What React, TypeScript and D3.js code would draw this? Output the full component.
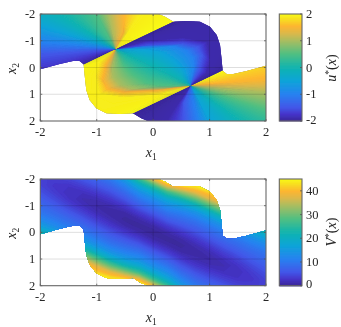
import React from 'react';
import * as d3 from 'd3';

type Pt = [number, number];

const W = 341;
const H = 327;

const axisTicks = [-2, -1, 0, 1, 2];
const uBarTicks = [-2, -1, 0, 1, 2];
const vBarTicks = [0, 10, 20, 30, 40];

// colour bar: position 0..1, colour
const barPos = [0, 0.06, 0.125, 0.25, 0.375, 0.5, 0.625, 0.75, 0.82, 0.885, 0.94, 1];
const barCol = ['#3a2898', '#4433c8', '#4356e8', '#2682f0', '#0ea4d8', '#12b4ae', '#4fbf82', '#a9bd60', '#dcb84a', '#fdb52f', '#f8d824', '#f8fb14'];

// edge of the feasible set, the other half is the same turned through the origin
const edgeHalf: Pt[] = [
  [-2, -2], [0.092, -2], [0.21, -1.9], [0.357, -1.713], [0.594, -1.738], [0.83, -1.713], [1.007, -1.526],
  [1.126, -1.215], [1.185, -0.841], [1.208, -0.405], [1.232, 0.118], [1.303, 0.243], [1.421, 0.243],
  [1.657, 0.131], [2, -0.069],
];

const pivotA: Pt = [-0.665, -0.679];
const pivotB: Pt = [0.665, 0.679];

// u* level lines in the fan left of the first switching line
const fanLevels = [-2, -1.5, -1, -0.5, 0, 0.5, 1, 1.5, 1.9, 2];
const fanCurves: Pt[][] = [
  [pivotA, [-1.25, -0.087], [-2, 0.672], [-3, 1.684]],
  [pivotA, [-1.333, -0.573], [-2, -0.467], [-3, -0.308]],
  [pivotA, [-1.333, -0.816], [-2, -0.953], [-3, -1.158]],
  [pivotA, [-1.333, -1.128], [-2, -1.576], [-3, -2.25]],
  [pivotA, [-1.129, -1.34], [-1.592, -2], [-2.055, -2.66]],
  [pivotA, [-0.833, -1.34], [-1.0015, -2], [-1.17, -2.66]],
  [pivotA, [-0.73, -1.34], [-0.795, -2], [-0.86, -2.66]],
  [pivotA, [-0.53, -1.33], [-0.54, -2], [-0.5, -2.66]],
  [pivotA, [-0.47, -1.265], [-0.292, -1.826], [-0.1, -2.66]],
  [pivotA, [-0.2, -1.15], [0.357, -1.713], [1, -2.364]],
];

// u* level lines in the strip between the two switching lines, 0 and up
const stripLevels = [0, 0.5, 1, 1.5, 1.9, 2];
const stripCurves: Pt[][] = [
  [pivotA, [-0.443, -0.453], [-0.222, -0.226], [0, 0], [0.222, 0.226], [0.443, 0.453], pivotB],
  [pivotA, [-0.529, -0.069], [-0.352, 0.28], [-0.115, 0.592], [0.18, 0.679], [0.417, 0.692], pivotB],
  [pivotA, [-0.736, 0.031], [-0.706, 0.368], [-0.588, 0.654], [-0.352, 0.816], [0.239, 0.779], pivotB],
  [pivotA, [-0.824, -0.093], [-0.883, 0.467], [-0.795, 0.779], [-0.529, 0.903], [0.062, 0.841], pivotB],
  [pivotA, [-0.942, -0.218], [-1.019, 0.28], [-0.96, 0.966], [-0.529, 1.115], [0.121, 1.003], pivotB],
  [pivotA, [-1.25, -0.087], [-2, 0.672], [-3, 1.684], [-3, 4.388], [-0.35, 1.7], pivotB],
];

// V* read on a 0.25 grid, one list per x1 column, x2 from -2 to 2
const vGridX1 = d3.range(-2, 2.01, 0.25);
const vGridX2 = d3.range(-2, 2.01, 0.25);
const vColumns = [
  [3.6, 4.1, 5.2, 6.6, 8.1, 9.7, 12.1, 15.8, 21.5, 30, 50, 50, 50, 50, 50, 50, 50],
  [3.4, 2.8, 3.4, 4.6, 6.3, 8, 10, 12.7, 17.1, 23.7, 32, 50, 50, 50, 50, 50, 50],
  [4.0, 2.6, 2.0, 2.6, 4.0, 5.9, 7.9, 10.1, 13.2, 18.1, 25.6, 33, 50, 50, 50, 50, 50],
  [5.8, 3.7, 2.1, 1.4, 2.1, 3.7, 5.8, 8, 10.5, 14, 19.6, 28, 36.4, 44, 50, 50, 50],
  [7.7, 5.4, 3.3, 1.6, 0.9, 1.6, 3.3, 5.4, 7.7, 10.3, 13.9, 19.6, 28.3, 36.9, 42, 50, 50],
  [10.3, 7.6, 5.2, 3, 1.3, 0.5, 1.3, 3, 5.2, 7.6, 10.3, 14, 20, 29, 38, 44, 50],
  [15.5, 11.3, 8.3, 5.6, 3, 1, 0.2, 1, 3, 5.6, 8.3, 11.3, 15.5, 22.3, 32.5, 42.7, 50],
  [26.1, 18.1, 13.1, 9.6, 6.4, 3.4, 1.1, 0.1, 1.1, 3.4, 6.4, 9.6, 13.1, 18.1, 26.1, 38.1, 50],
  [38, 26, 18, 13, 9.5, 6.3, 3.3, 1, 0, 1, 3.3, 6.3, 9.5, 13, 18, 26, 38],
  [50, 38.1, 26.1, 18.1, 13.1, 9.6, 6.4, 3.4, 1.1, 0.1, 1.1, 3.4, 6.4, 9.6, 13.1, 18.1, 26.1],
  [50, 42.7, 32.5, 22.3, 15.5, 11.3, 8.3, 5.6, 3, 1, 0.2, 1, 3, 5.6, 8.3, 11.3, 15.5],
  [50, 44, 38, 29, 20, 14, 10.3, 7.6, 5.2, 3, 1.3, 0.5, 1.3, 3, 5.2, 7.6, 10.3],
  [50, 50, 42, 36.9, 28.3, 19.6, 13.9, 10.3, 7.7, 5.4, 3.3, 1.6, 0.9, 1.6, 3.3, 5.4, 7.7],
  [50, 50, 50, 44, 36.4, 28, 19.6, 14, 10.5, 8, 5.8, 3.7, 2.1, 1.4, 2.1, 3.7, 5.8],
  [50, 50, 50, 50, 50, 33, 25.6, 18.1, 13.2, 10.1, 7.9, 5.9, 4.0, 2.6, 2.0, 2.6, 4.0],
  [50, 50, 50, 50, 50, 50, 32, 23.7, 17.1, 12.7, 10, 8, 6.3, 4.6, 3.4, 2.8, 3.4],
  [50, 50, 50, 50, 50, 50, 50, 30, 21.5, 15.8, 12.1, 9.7, 8.1, 6.6, 5.2, 4.1, 3.6],
];

const negate = (p: Pt): Pt => [-p[0], -p[1]];
const edge: Pt[] = [...edgeHalf, ...edgeHalf.map(negate)];

const colorRange = (lo: number, hi: number) =>
  d3.scaleLinear<string>()
    .domain(barPos.map((t) => lo + (hi - lo) * t))
    .range(barCol)
    .clamp(true);

const uColor = colorRange(-2, 2);
const vColor = colorRange(0, 45);

const xScale = d3.scaleLinear().domain([-2, 2]).range([40.3, 266]);
const panel1Y = d3.scaleLinear().domain([-2, 2]).range([14, 121]);
const panel2Y = d3.scaleLinear().domain([-2, 2]).range([179, 285.7]);

const serif = '"Liberation Serif", serif';
const tickColor = '#262626';

// painted in order, each band runs two steps too far and the next one covers it, so no seams show
function bands(curves: Pt[][], levels: number[], steps = 14) {
  const out: { pts: Pt[]; value: number }[] = [];
  const total = (curves.length - 1) * steps;
  const at = (n: number) => {
    const m = Math.min(n, total);
    const i = Math.min(Math.floor(m / steps), curves.length - 2);
    const t = m / steps - i;
    return curves[i].map((p, k): Pt => [
      p[0] + (curves[i + 1][k][0] - p[0]) * t,
      p[1] + (curves[i + 1][k][1] - p[1]) * t,
    ]);
  };
  for (let n = 0; n < total; n++) {
    const i = Math.floor(n / steps);
    out.push({
      pts: [...at(n), ...at(n + 2).reverse()],
      value: levels[i] + ((levels[i + 1] - levels[i]) * (n % steps + 0.5)) / steps,
    });
  }
  return out;
}

const mirrorCurve = (c: Pt[]) => c.map(negate).reverse();

const uBands = [
  ...bands(fanCurves, fanLevels),
  ...bands(fanCurves.map((c) => c.map(negate)), fanLevels.map((v) => -v)),
  ...bands(stripCurves, stripLevels),
  ...bands(stripCurves.map(mirrorCurve), stripLevels.map((v) => -v)),
];

const vFlat = vColumns.flat();
const vThresholds = d3.range(0, 50, 0.5);
const vContours = d3.contours().size([vGridX2.length, vGridX1.length]).smooth(true).thresholds(vThresholds)(vFlat);

function Frame({ y, children, clipId }: { y: d3.ScaleLinear<number, number>; children: React.ReactNode; clipId: string }) {
  const [y0, y1] = y.range();
  const [x0, x1] = xScale.range();
  const line = d3.line<Pt>().x((d) => xScale(d[0])).y((d) => y(d[1]));
  return (
    <g>
      <clipPath id={clipId}>
        <path d={line(edge) + 'Z'} />
      </clipPath>
      <g clipPath={`url(#${clipId})`}>{children}</g>
      {axisTicks.slice(1, -1).map((t) => (
        <g key={t} stroke="#000" strokeOpacity={0.13} strokeWidth={1}>
          <line x1={xScale(t)} x2={xScale(t)} y1={y0} y2={y1} />
          <line x1={x0} x2={x1} y1={y(t)} y2={y(t)} />
        </g>
      ))}
      {axisTicks.map((t) => (
        <g key={t} stroke="#555" strokeWidth={0.8}>
          <line x1={xScale(t)} x2={xScale(t)} y1={y1} y2={y1 - 2} />
          <line x1={xScale(t)} x2={xScale(t)} y1={y0} y2={y0 + 2} />
          <line x1={x0} x2={x0 + 2} y1={y(t)} y2={y(t)} />
          <line x1={x1} x2={x1 - 2} y1={y(t)} y2={y(t)} />
        </g>
      ))}
      <rect x={x0} y={y0} width={x1 - x0} height={y1 - y0} fill="none" stroke="#666" strokeWidth={1.1} />
      {axisTicks.map((t) => (
        <text key={t} x={xScale(t)} y={y1 + 15} textAnchor="middle" fontSize={12.5} fill={tickColor}>{t}</text>
      ))}
      {axisTicks.map((t) => (
        <text key={t} x={x0 - 5} y={y(t) + 4} textAnchor="end" fontSize={12.5} fill={tickColor}>{t}</text>
      ))}
      <text x={(x0 + x1) / 2 - 2} y={y1 + 36} textAnchor="middle" fontSize={14} fill={tickColor} fontStyle="italic">
        x<tspan fontSize={9.5} dy={3} fontStyle="normal">1</tspan>
      </text>
      <text transform={`translate(16,${(y0 + y1) / 2 + 1}) rotate(-90)`} textAnchor="middle" fontSize={14} fill={tickColor} fontStyle="italic">
        x<tspan fontSize={9.5} dy={3} fontStyle="normal">2</tspan>
      </text>
    </g>
  );
}

function ColorBar({ y, domain, ticks, color, name, labelY }: {
  y: d3.ScaleLinear<number, number>;
  domain: [number, number];
  ticks: number[];
  color: (v: number) => string;
  name: string;
  labelY: number;
}) {
  const [y0, y1] = y.range();
  const bar = d3.scaleLinear().domain(domain).range([y1, y0]);
  const cells = d3.range(0, y1 - y0, 1);
  return (
    <g>
      {cells.map((c) => (
        <rect key={c} x={279.3} width={22.7} y={y0 + c} height={1.4} fill={color(bar.invert(y0 + c + 0.5))} />
      ))}
      <rect x={279.3} y={y0} width={22.7} height={y1 - y0} fill="none" stroke="#666" strokeWidth={1.1} />
      {ticks.map((t) => (
        <g key={t}>
          <line x1={300} x2={302} y1={bar(t)} y2={bar(t)} stroke="#555" strokeWidth={0.8} />
          <text x={306} y={Math.min(bar(t), y1 - 1.5) + 4} fontSize={12.5} fill={tickColor}>{t}</text>
        </g>
      ))}
      <text transform={`translate(336,${labelY}) rotate(-90)`} textAnchor="middle" fontSize={14} fill={tickColor}>
        <tspan fontStyle="italic">{name}</tspan>
        <tspan fontSize={9.5} dy={-4}>*</tspan>
        <tspan dy={4}>(</tspan>
        <tspan fontStyle="italic">x</tspan>
        <tspan>)</tspan>
      </text>
    </g>
  );
}

export default function App() {
  const uLine = d3.line<Pt>().x((d) => xScale(d[0])).y((d) => panel1Y(d[1]));
  const gridX1 = d3.scaleLinear().domain([0.5, vGridX1.length - 0.5]).range([-2, 2]);
  const gridX2 = d3.scaleLinear().domain([0.5, vGridX2.length - 0.5]).range([-2, 2]);
  // the contour grid runs x2 across, x1 down
  const vPath = d3.geoPath(
    d3.geoTransform({
      point(cx: number, cy: number) {
        (this as any).stream.point(xScale(gridX1(cy)), panel2Y(gridX2(cx)));
      },
    }),
  );

  return (
    <svg width={W} height={H} viewBox={`0 0 ${W} ${H}`} fontFamily={serif} style={{ position: 'absolute', left: 0, top: 0 }}>
      <defs>
        <filter id="soft" x="0" y="0" width="100%" height="100%">
          <feGaussianBlur stdDeviation={0.35} />
        </filter>
      </defs>
      <rect width={W} height={H} fill="#fff" />
      <g filter="url(#soft)">
        <Frame y={panel1Y} clipId="edge1">
          {/* underlay so the switching lines don't let white through */}
          <rect x={30} y={0} width={250} height={130} fill={uColor(-2)} />
          {uBands.map((b, i) => (
            <path key={i} d={uLine(b.pts) + 'Z'} fill={uColor(b.value)} />
          ))}
          <path d={uLine(stripCurves[0]) ?? ''} fill="none" stroke={uColor(0)} strokeWidth={1} />
        </Frame>
        <ColorBar y={panel1Y} domain={[-2, 2]} ticks={uBarTicks} color={uColor} name="u" labelY={68} />
        <Frame y={panel2Y} clipId="edge2">
          {vContours.map((c, i) => (
            <path key={i} d={vPath(c as any) ?? ''} fill={vColor(c.value + 0.25)} />
          ))}
        </Frame>
        <ColorBar y={panel2Y} domain={[0, 45]} ticks={vBarTicks} color={vColor} name="V" labelY={232} />
      </g>
    </svg>
  );
}
